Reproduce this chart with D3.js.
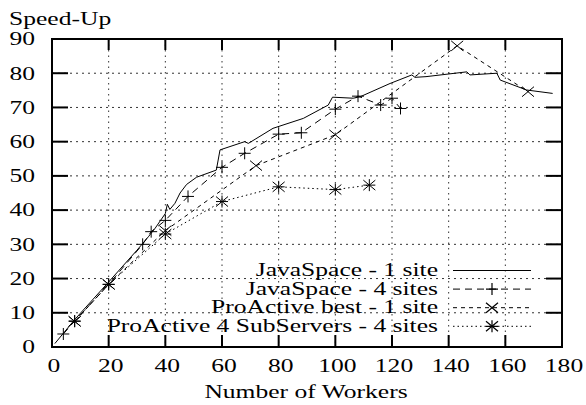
<!DOCTYPE html>
<html>
<head>
<meta charset="utf-8">
<script src="https://cdn.jsdelivr.net/npm/d3@7"></script>
<style>
  body { margin: 0; background: #fff; }
  svg { display: block; }
  svg text { font-family: "Liberation Serif", "Times New Roman", Times, serif; }
</style>
</head>
<body>
<svg width="586" height="405"></svg>
<script>
// data: [workers, speed-up]
var javaSpace1 = [[1,1],[8,8],[20,19],[30,28.3],[34,32.2],[36.4,34.7],[40,39],[40.7,41.7],[41.6,40.2],
  [43.4,42],[45.2,45],[47.5,47.5],[51,49.6],[58,51.7],[59.3,57.6],[68,60],[69.3,59.5],[78,63.9],
  [88.7,66.8],[97.5,70.7],[99,73],[106.3,72.7],[108.7,73.1],[119.3,77],[127,79.5],[128.1,78.8],
  [132,79],[146.4,80.4],[147.5,79.5],[157,80],[158.2,78],[167.5,75.1],[176.7,74.1]];
var javaSpace4 = [[4,3.8],[8,7.6],[20,18.3],[32,30],[35,33.7],[40,37],[48,44],[60,52.5],[68,56.6],
  [80,62.2],[88,62.6],[100,69.5],[108,73.3],[116,70.7],[120,72.7],[123,69.7]];
var proActiveBest = [[8,7.5],[20,18.3],[40,34],[72,53],[100,62],[143,88],[168,74.6]];
var proActive4 = [[8,7.5],[20,18.3],[40,33],[60,42.5],[80,46.8],[100,46],[112,47.3]];

var seriesNames = ["JavaSpace - 1 site", "JavaSpace - 4 sites", "ProActive best - 1 site",
  "ProActive 4 SubServers - 4 sites"];
var xTicks = [0, 20, 40, 60, 80, 100, 120, 140, 160, 180];
var yTicks = [0, 10, 20, 30, 40, 50, 60, 70, 80, 90];

var svg = d3.select("svg");
var m = {left: 52, right: 562, top: 39, bottom: 347};
var stretch = 1.42;   // the glyphs in the picture are wider than they are tall

var x = d3.scaleLinear().domain([0, 180]).range([m.left, m.right]);
var y = d3.scaleLinear().domain([0, 90]).range([m.bottom, m.top]);

// text helper, stretched horizontally around its anchor
function label(px, py, str, anchor, dy) {
  svg.append("g")
    .attr("transform", "translate(" + px + "," + py + ") scale(" + stretch + ",1)")
    .append("text")
    .attr("text-anchor", anchor)
    .attr("dy", dy || 0)
    .attr("font-size", 18)
    .attr("fill", "#000")
    .text(str);
}

// grid
svg.append("g").selectAll("line")
  .data(yTicks.slice(1, -1))
  .enter().append("line")
    .attr("x1", m.left).attr("x2", m.right)
    .attr("y1", function(d) { return y(d); }).attr("y2", function(d) { return y(d); })
    .attr("stroke", "#333").attr("stroke-width", 1).attr("stroke-dasharray", "2,4");
svg.append("g").selectAll("line")
  .data(xTicks.slice(1, -1))
  .enter().append("line")
    .attr("y1", m.top).attr("y2", m.bottom)
    .attr("x1", function(d) { return x(d); }).attr("x2", function(d) { return x(d); })
    .attr("stroke", "#333").attr("stroke-width", 1).attr("stroke-dasharray", "1.5,4");

// ticks on all four sides
var tk = svg.append("g").attr("stroke", "#000").attr("stroke-width", 2);
yTicks.forEach(function(v) {
  tk.append("line").attr("x1", m.left).attr("x2", m.left + 16).attr("y1", y(v)).attr("y2", y(v));
  tk.append("line").attr("x1", m.right).attr("x2", m.right - 16).attr("y1", y(v)).attr("y2", y(v));
});
xTicks.forEach(function(v) {
  tk.append("line").attr("y1", m.bottom).attr("y2", m.bottom - 12).attr("x1", x(v)).attr("x2", x(v));
  tk.append("line").attr("y1", m.top).attr("y2", m.top + 11).attr("x1", x(v)).attr("x2", x(v));
});

// frame
svg.append("rect")
  .attr("x", m.left).attr("y", m.top)
  .attr("width", m.right - m.left).attr("height", m.bottom - m.top)
  .attr("fill", "none").attr("stroke", "#000").attr("stroke-width", 2);

// tick labels
yTicks.forEach(function(v) { label(35, y(v), v, "end", "0.35em"); });
xTicks.forEach(function(v) { label(x(v) + 2, 372, v, "middle"); });

// axis titles
label(9, 25, "Speed-Up", "start");
label(306, 398, "Number of Workers", "middle");

// markers
function plus(g, cx, cy) {
  g.append("path").attr("d", "M" + (cx - 6) + "," + cy + "H" + (cx + 6) + "M" + cx + "," + (cy - 6) + "V" + (cy + 6));
}
function cross(g, cx, cy) {
  g.append("path").attr("d", "M" + (cx - 6) + "," + (cy - 5) + "L" + (cx + 6) + "," + (cy + 5) +
    "M" + (cx - 6) + "," + (cy + 5) + "L" + (cx + 6) + "," + (cy - 5));
}
function star(g, cx, cy) {
  plus(g, cx, cy);
  cross(g, cx, cy);
}

var styles = [
  { data: javaSpace1, dash: null, mark: null },
  { data: javaSpace4, dash: "7,5", mark: plus },
  { data: proActiveBest, dash: "4,4", mark: cross },
  { data: proActive4, dash: "1.5,3", mark: star }
];

var line = d3.line()
  .x(function(d) { return x(d[0]); })
  .y(function(d) { return y(d[1]); });

styles.forEach(function(s, i) {
  svg.append("path")
    .datum(s.data)
    .attr("d", line)
    .attr("fill", "none")
    .attr("stroke", "#000")
    .attr("stroke-width", 1)
    .attr("stroke-dasharray", s.dash);
  if (s.mark) {
    var g = svg.append("g").attr("stroke", "#000").attr("stroke-width", 1).attr("fill", "none");
    s.data.forEach(function(d) { s.mark(g, x(d[0]), y(d[1])); });
  }

  // legend row
  var ly = 270.5 + i * 18.6;
  label(438, ly + 5.5, seriesNames[i], "end");
  svg.append("line")
    .attr("x1", 453).attr("x2", 531).attr("y1", ly).attr("y2", ly)
    .attr("stroke", "#000").attr("stroke-width", 1)
    .attr("stroke-dasharray", s.dash);
  if (s.mark) {
    var lg = svg.append("g").attr("stroke", "#000").attr("stroke-width", 1.2);
    s.mark(lg, 492, ly);
  }
});
</script>
</body>
</html>
